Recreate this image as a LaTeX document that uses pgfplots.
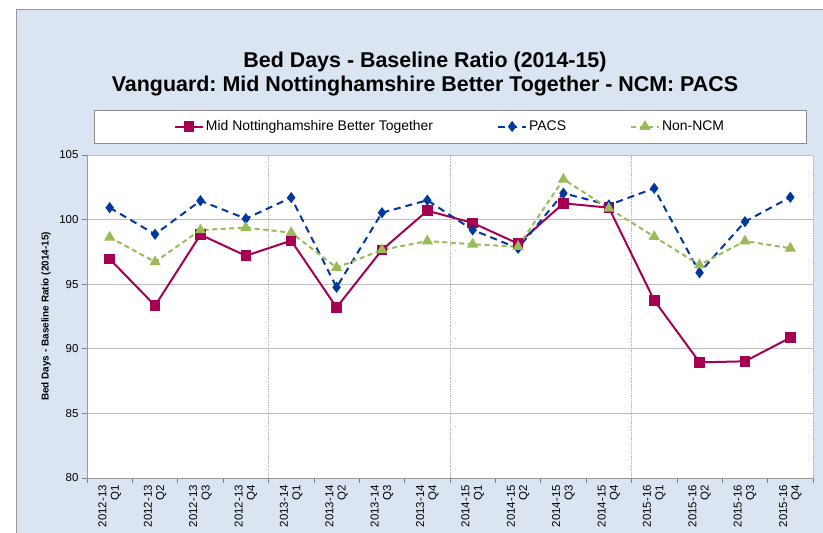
\documentclass[border=0pt]{standalone}
\usepackage{fontspec}
\setmainfont{Liberation Sans}
\usepackage{pgfplots}
\pgfplotsset{compat=1.18}
\frenchspacing
\definecolor{bgblue}{RGB}{219,229,241}
\definecolor{mnred}{RGB}{166,0,83}
\definecolor{pacsblue}{RGB}{0,56,160}
\definecolor{ncmgreen}{RGB}{155,187,89}
\definecolor{gridgray}{RGB}{190,190,190}
\begin{document}
\begin{tikzpicture}[x=1bp,y=1bp]
\useasboundingbox (0,0) rectangle (823,533);
\fill[white] (0,0) rectangle (823,533);
\begin{scope}
\clip (0,0) rectangle (823,533);
\filldraw[fill=bgblue, draw=gray!80, line width=1bp] (16,-5) rectangle (830,523);
\end{scope}
\node[font=\bfseries\fontsize{21.5}{25}\selectfont, align=center] at (425,459)
  {Bed Days - Baseline Ratio (2014-15)\\Vanguard: Mid Nottinghamshire Better Together - NCM: PACS};
\filldraw[fill=white, draw=gray!90, line width=0.8bp] (94,390) rectangle (806,423);
\begin{axis}[
  at={(87bp,55bp)}, anchor=south west,
  scale only axis, width=726bp, height=323bp,
  xmin=-0.5, xmax=15.5, ymin=80, ymax=105,
  ytick={80,85,...,105},
  xtick={0,...,15},
  xticklabels={{2012-13\\Q1},{2012-13\\Q2},{2012-13\\Q3},{2012-13\\Q4},
               {2013-14\\Q1},{2013-14\\Q2},{2013-14\\Q3},{2013-14\\Q4},
               {2014-15\\Q1},{2014-15\\Q2},{2014-15\\Q3},{2014-15\\Q4},
               {2015-16\\Q1},{2015-16\\Q2},{2015-16\\Q3},{2015-16\\Q4}},
  xticklabel style={rotate=90, anchor=east, align=right, font=\fontsize{11.5}{12.5}\selectfont, inner sep=2bp},
  yticklabel style={font=\fontsize{11.5}{13}\selectfont},
  /pgf/number format/assume math mode=true,
  major x tick style={draw=none},
  minor xtick={-0.5,0.5,...,15.5},
  minor tick length=5bp,
  major tick length=5bp,
  tick align=outside,
  tick style={gray, line width=0.6bp},
  axis lines*=left,
  axis line style={gray!80, line width=0.8bp, -},
  axis background/.style={fill=white},
  ymajorgrids, major grid style={gridgray, line width=0.8bp},
  extra x ticks={3.5,7.5,11.5,15.5},
  extra x tick labels={},
  extra x tick style={grid=major, major grid style={gray!60, densely dotted, line width=0.8bp}, major tick length=0pt},
  ylabel={Bed Days - Baseline Ratio (2014-15)},
  ylabel style={at={(axis description cs:-0.0565,0.5)}, anchor=center, font=\bfseries\fontsize{10}{12}\selectfont},
  legend columns=3,
  legend image code/.code={\draw[mark repeat=2,mark phase=2,#1] plot coordinates {(0bp,0bp)(14bp,0bp)(28bp,0bp)};},
  legend style={at={(axis description cs:0.5,1.088)}, anchor=center, draw=none, fill=none,
    font=\fontsize{14}{16}\selectfont,
    /tikz/every even column/.append style={column sep=62bp}},
  clip=false,
]
\addplot[mnred, line width=2bp, mark=square*, mark size=4.3bp, mark options={solid}] coordinates {
(0,96.95) (1,93.34) (2,98.83) (3,97.2) (4,98.37) (5,93.2) (6,97.65) (7,100.69)
(8,99.74) (9,98.14) (10,101.26) (11,100.92) (12,93.75) (13,88.95) (14,89.03) (15,90.86)};
\addlegendentry{Mid Nottinghamshire Better Together}
\addplot[pacsblue, line width=2bp, dash pattern=on 7bp off 5bp, mark=diamond*, mark size=4bp, mark options={solid}] coordinates {
(0,100.92) (1,98.86) (2,101.46) (3,100.07) (4,101.7) (5,94.76) (6,100.53) (7,101.5)
(8,99.2) (9,97.78) (10,102.04) (11,101.13) (12,102.42) (13,95.89) (14,99.84) (15,101.73)};
\addlegendentry{PACS}
\addplot[ncmgreen, line width=2bp, dash pattern=on 5bp off 3.5bp, mark=triangle*, mark size=4.5bp, mark options={solid}] coordinates {
(0,98.63) (1,96.72) (2,99.2) (3,99.37) (4,98.99) (5,96.28) (6,97.65) (7,98.34)
(8,98.09) (9,97.9) (10,103.12) (11,100.87) (12,98.68) (13,96.49) (14,98.34) (15,97.78)};
\addlegendentry{Non-NCM}
\end{axis}
\end{tikzpicture}
\end{document}
